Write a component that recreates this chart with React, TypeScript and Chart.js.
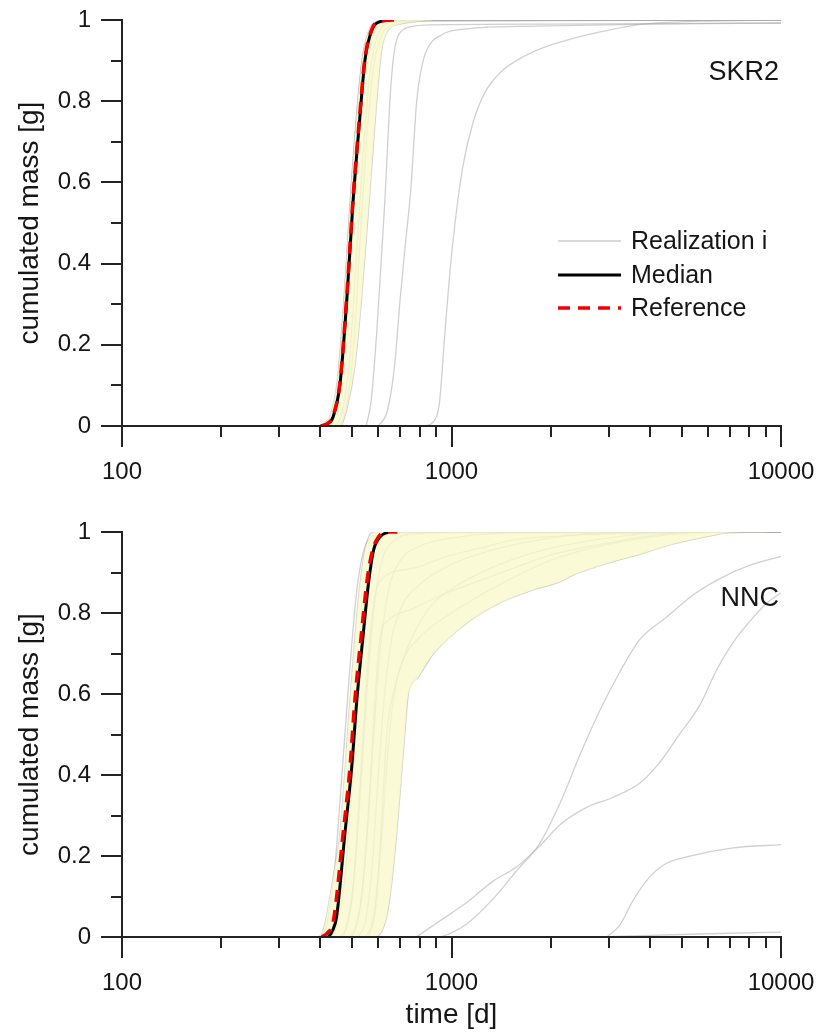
import React, { useEffect, useRef } from "react";
import { Chart, registerables } from "chart.js";

Chart.register(...registerables);

type Pt = [number, number];

// ---------------- axes / labels ----------------
const xMin = 100;
const xMax = 10000;
const yMin = 0;
const yMax = 1;
const xTickValues = [100, 1000, 10000];
const xMinorTickValues = [200, 300, 400, 500, 600, 700, 800, 900, 2000, 3000, 4000, 5000, 6000, 7000, 8000, 9000];
const yTickValues = [0, 0.2, 0.4, 0.6, 0.8, 1];
const yMinorTickValues = [0.1, 0.3, 0.5, 0.7, 0.9];
const legendLabels = ["Realization i", "Median", "Reference"];
const yAxisTitle = "cumulated mass [g]";
const xAxisTitle = "time [d]";
const panelNames = ["SKR2", "NNC"];

// ---------------- SKR2 (top panel): [time d, cumulated mass g] ----------------
const skrMedian: Pt[] = [[402, 0], [420, 0.005], [437, 0.022], [459, 0.105], [481, 0.31], [503, 0.557], [527, 0.76], [546, 0.9], [573, 0.975], [607, 0.996], [650, 1]];
const skrReference: Pt[] = [[402, 0], [420, 0.006], [437, 0.025], [459, 0.11], [481, 0.32], [503, 0.565], [527, 0.77], [546, 0.905], [573, 0.977], [607, 0.997], [685, 1]];
const skrBandLeft: Pt[] = [[396, 0], [415, 0.01], [430, 0.03], [450, 0.11], [472, 0.32], [494, 0.57], [517, 0.78], [537, 0.91], [563, 0.978], [597, 0.997], [640, 1], [10000, 1]];
const skrBandRight: Pt[] = [[464, 0], [481, 0.04], [509, 0.146], [533, 0.31], [553, 0.475], [573, 0.64], [593, 0.8], [614, 0.926], [643, 0.975], [698, 0.99], [783, 0.996], [900, 1], [10000, 1]];
const skrReal1: Pt[] = [[405, 0], [425, 0.015], [445, 0.07], [468, 0.26], [490, 0.52], [512, 0.74], [535, 0.9], [562, 0.97], [600, 0.995], [700, 1], [10000, 1]];
const skrReal2: Pt[] = [[420, 0], [445, 0.03], [468, 0.13], [492, 0.38], [515, 0.62], [540, 0.82], [565, 0.93], [600, 0.985], [660, 0.998], [10000, 1]];
const skrReal3: Pt[] = [[440, 0], [465, 0.03], [490, 0.16], [515, 0.42], [540, 0.68], [562, 0.85], [590, 0.95], [630, 0.99], [720, 1], [10000, 1]];
const skrReal4: Pt[] = [[455, 0], [478, 0.04], [505, 0.2], [530, 0.48], [552, 0.7], [575, 0.86], [605, 0.95], [650, 0.985], [760, 0.998], [10000, 1]];
const skrReal5: Pt[] = [[551, 0], [570, 0.06], [593, 0.23], [610, 0.39], [628, 0.557], [650, 0.8], [665, 0.9], [681, 0.95], [710, 0.975], [748, 0.983], [868, 0.988], [2000, 0.99], [10000, 0.993]];
const skrReal6: Pt[] = [[600, 0], [640, 0.04], [672, 0.15], [698, 0.31], [725, 0.45], [752, 0.58], [784, 0.8], [810, 0.88], [840, 0.925], [940, 0.965], [1110, 0.978], [1800, 0.985], [4000, 0.99], [10000, 0.992]];
const skrReal7: Pt[] = [[830, 0], [880, 0.01], [920, 0.06], [953, 0.22], [989, 0.38], [1025, 0.5], [1083, 0.64], [1165, 0.75], [1260, 0.82], [1403, 0.87], [1613, 0.905], [1900, 0.932], [2230, 0.95], [2800, 0.97], [3810, 0.99], [5700, 0.997], [10000, 1]];

// ---------------- NNC (bottom panel) ----------------
const nncMedian: Pt[] = [[423, 0], [435, 0.015], [448, 0.05], [475, 0.257], [498, 0.42], [516, 0.585], [540, 0.75], [560, 0.874], [580, 0.955], [607, 0.988], [643, 1]];
const nncReference: Pt[] = [[404, 0], [420, 0.01], [438, 0.04], [469, 0.257], [492, 0.42], [509, 0.585], [533, 0.75], [553, 0.874], [573, 0.948], [600, 0.988], [636, 1], [685, 1]];
const nncBandLeft: Pt[] = [[394, 0], [405, 0.01], [417, 0.05], [440, 0.16], [459, 0.257], [492, 0.585], [521, 0.83], [546, 0.955], [573, 0.998], [607, 1], [10000, 1]];
const nncBandRight: Pt[] = [[594, 0], [615, 0.015], [636, 0.05], [660, 0.14], [682, 0.257], [702, 0.38], [722, 0.503], [740, 0.6], [790, 0.64], [883, 0.7], [1112, 0.775], [1403, 0.825], [1769, 0.857], [2134, 0.877], [2331, 0.893], [2950, 0.922], [3732, 0.945], [4690, 0.97], [5910, 0.988], [6960, 0.998], [10000, 1]];
const nncReal1: Pt[] = [[400, 0], [418, 0.03], [440, 0.15], [465, 0.4], [490, 0.65], [515, 0.85], [540, 0.95], [575, 0.99], [640, 1], [10000, 1]];
const nncReal2: Pt[] = [[430, 0], [450, 0.03], [475, 0.15], [500, 0.38], [525, 0.62], [550, 0.82], [575, 0.93], [610, 0.98], [680, 0.998], [10000, 1]];
const nncReal3: Pt[] = [[460, 0], [482, 0.03], [508, 0.16], [535, 0.42], [560, 0.66], [585, 0.83], [615, 0.93], [660, 0.975], [760, 0.995], [1200, 1], [10000, 1]];
const nncReal4: Pt[] = [[490, 0], [515, 0.03], [540, 0.14], [565, 0.36], [590, 0.58], [615, 0.75], [650, 0.87], [700, 0.93], [800, 0.965], [1000, 0.985], [1500, 0.997], [10000, 1]];
const nncReal5: Pt[] = [[520, 0], [548, 0.04], [575, 0.18], [602, 0.42], [630, 0.62], [660, 0.74], [710, 0.82], [800, 0.87], [1000, 0.92], [1400, 0.96], [2200, 0.99], [3500, 1], [10000, 1]];
const nncReal6: Pt[] = [[550, 0], [580, 0.05], [610, 0.22], [640, 0.45], [670, 0.6], [710, 0.68], [800, 0.74], [1000, 0.8], [1400, 0.87], [2000, 0.93], [3000, 0.97], [4500, 0.993], [6000, 1], [10000, 1]];
const nncReal7: Pt[] = [[470, 0], [500, 0.1], [530, 0.4], [560, 0.7], [585, 0.84], [607, 0.88], [762, 0.91], [969, 0.94], [1220, 0.96], [1534, 0.98], [2500, 0.993], [4936, 0.998], [10000, 1]];
const nncReal8: Pt[] = [[500, 0], [530, 0.08], [560, 0.3], [585, 0.58], [607, 0.74], [640, 0.78], [762, 0.81], [969, 0.85], [1220, 0.88], [1534, 0.91], [1941, 0.94], [2454, 0.96], [3084, 0.975], [3910, 0.99], [6000, 1], [10000, 1]];
const nncReal9: Pt[] = [[560, 0], [590, 0.08], [615, 0.3], [636, 0.5], [680, 0.63], [740, 0.72], [820, 0.79], [883, 0.825], [1050, 0.87], [1400, 0.92], [2000, 0.96], [3000, 0.985], [4500, 1], [10000, 1]];
const nncReal10: Pt[] = [[923, 0], [1000, 0.01], [1112, 0.032], [1337, 0.094], [1574, 0.163], [1855, 0.232], [2134, 0.33], [2454, 0.45], [2822, 0.56], [3245, 0.655], [3732, 0.735], [4499, 0.79], [5419, 0.845], [6529, 0.885], [8052, 0.918], [10000, 0.94]];
const nncReal11: Pt[] = [[782, 0], [923, 0.04], [1112, 0.085], [1337, 0.138], [1574, 0.173], [1855, 0.225], [2134, 0.277], [2572, 0.32], [3098, 0.345], [3732, 0.38], [4292, 0.432], [4936, 0.502], [5677, 0.573], [6381, 0.66], [7167, 0.728], [8052, 0.78], [9050, 0.824], [10000, 0.85]];
const nncReal12: Pt[] = [[2958, 0], [3246, 0.03], [3555, 0.09], [4003, 0.149], [4499, 0.182], [5172, 0.198], [7153, 0.22], [10000, 0.228]];
const nncReal13: Pt[] = [[2800, 0], [4000, 0.004], [6000, 0.008], [10000, 0.012]];

const skrRealizations: Pt[][] = [skrBandLeft, skrReal1, skrReal2, skrReal3, skrReal4, skrBandRight, skrReal5, skrReal6, skrReal7];
const nncRealizations: Pt[][] = [nncBandLeft, nncReal1, nncReal2, nncReal3, nncReal4, nncReal5, nncReal6, nncReal7, nncReal8, nncReal9, nncBandRight, nncReal10, nncReal11, nncReal12, nncReal13];

// ---------------- styles ----------------
const FONT = '"Liberation Sans", Arial, Helvetica, sans-serif';
const TEXT = "#161616";
const AXIS = "#232323";
const GREY = "rgba(170,170,170,0.55)";
const LEGEND_GREY = "rgb(218,218,218)";
const BAND = "rgba(250,249,205,0.8)";
const RED = "#f00000";
const MAJOR = 21;
const MINOR = 11;

const toXY = (arr: Pt[]) => arr.map(([x, y]) => ({ x, y }));

function buildDatasets(real: Pt[][], left: Pt[], right: Pt[], median: Pt[], ref: Pt[]) {
  const ds: any[] = [];
  ds.push({
    data: toXY(ref),
    borderColor: RED,
    borderWidth: 3.5,
    borderDash: [12, 8],
    pointRadius: 0,
    cubicInterpolationMode: "monotone",
    fill: false,
    order: 0,
  });
  ds.push({
    data: toXY(median),
    borderColor: "#000000",
    borderWidth: 3,
    pointRadius: 0,
    cubicInterpolationMode: "monotone",
    fill: false,
    order: 1,
  });
  ds.push({
    data: [...toXY(left), ...toXY(right).reverse()],
    borderColor: "rgba(0,0,0,0)",
    borderWidth: 0,
    backgroundColor: BAND,
    pointRadius: 0,
    tension: 0.25,
    fill: "shape",
    order: 2,
  });
  real.forEach((r) => {
    ds.push({
      data: toXY(r),
      borderColor: GREY,
      borderWidth: 1.3,
      pointRadius: 0,
      cubicInterpolationMode: "monotone",
      fill: false,
      order: 3,
    });
  });
  return ds;
}

const decorPlugin = {
  id: "decor",
  afterDatasetsDraw(chart: any, _args: any, opts: any) {
    const ctx: CanvasRenderingContext2D = chart.ctx;
    const xs = chart.scales.x;
    const ys = chart.scales.y;
    const px = (v: number) => Math.round(xs.getPixelForValue(v));
    const py = (v: number) => Math.round(ys.getPixelForValue(v));
    const xl = px(xMin);
    const xr = px(xMax);
    const yb = py(yMin);
    const yt = py(yMax);
    ctx.save();
    ctx.strokeStyle = AXIS;
    ctx.lineWidth = 2;
    ctx.lineCap = "butt";
    ctx.beginPath();
    ctx.moveTo(xl, yt - 1);
    ctx.lineTo(xl, yb + MAJOR);
    ctx.moveTo(xl - MAJOR, yb);
    ctx.lineTo(xr + 1, yb);
    yTickValues.forEach((v) => {
      const y = py(v);
      ctx.moveTo(xl - MAJOR, y);
      ctx.lineTo(xl, y);
    });
    yMinorTickValues.forEach((v) => {
      const y = py(v);
      ctx.moveTo(xl - MINOR, y);
      ctx.lineTo(xl, y);
    });
    xTickValues.forEach((v) => {
      const x = px(v);
      ctx.moveTo(x, yb);
      ctx.lineTo(x, yb + MAJOR);
    });
    xMinorTickValues.forEach((v) => {
      const x = px(v);
      ctx.moveTo(x, yb);
      ctx.lineTo(x, yb + MINOR);
    });
    ctx.stroke();

    // panel name
    ctx.fillStyle = TEXT;
    ctx.font = `27px ${FONT}`;
    ctx.textAlign = "right";
    ctx.textBaseline = "alphabetic";
    ctx.fillText(opts.name, chart.chartArea.right - 2, opts.nameY);

    if (opts.legend) {
      const rows = [241, 275, 308];
      const x1 = 558;
      const x2 = 621;
      ctx.font = `25px ${FONT}`;
      ctx.textAlign = "left";
      ctx.textBaseline = "middle";
      ctx.strokeStyle = LEGEND_GREY;
      ctx.lineWidth = 2;
      ctx.setLineDash([]);
      ctx.beginPath();
      ctx.moveTo(x1, rows[0]);
      ctx.lineTo(x2, rows[0]);
      ctx.stroke();
      ctx.strokeStyle = "#000";
      ctx.lineWidth = 3;
      ctx.beginPath();
      ctx.moveTo(x1, rows[1]);
      ctx.lineTo(x2, rows[1]);
      ctx.stroke();
      ctx.strokeStyle = RED;
      ctx.lineWidth = 3.5;
      ctx.setLineDash([12, 8]);
      ctx.beginPath();
      ctx.moveTo(x1, rows[2]);
      ctx.lineTo(x2, rows[2]);
      ctx.stroke();
      ctx.setLineDash([]);
      legendLabels.forEach((t, i) => {
        ctx.fillText(t, 631, rows[i] + 1);
      });
    }
    ctx.restore();
  },
};

const zeroPadding = (s: any) => {
  s.paddingTop = 0;
  s.paddingBottom = 0;
  s.paddingLeft = 0;
  s.paddingRight = 0;
};

function makeConfig(p: {
  datasets: any[];
  padTop: number;
  xAxisHeight: number;
  showXTitle: boolean;
  name: string;
  nameY: number;
  legend: boolean;
}): any {
  return {
    type: "line",
    data: { datasets: p.datasets },
    plugins: [decorPlugin],
    options: {
      responsive: false,
      animation: false,
      devicePixelRatio: 1,
      events: [],
      layout: { padding: { left: 0, right: 39, top: p.padTop, bottom: 0 } },
      plugins: {
        legend: { display: false },
        tooltip: { enabled: false },
        decor: { name: p.name, nameY: p.nameY, legend: p.legend },
      },
      scales: {
        x: {
          type: "logarithmic",
          min: xMin,
          max: xMax,
          afterBuildTicks: (s: any) => {
            s.ticks = xTickValues.map((v) => ({ value: v }));
          },
          afterFit: (s: any) => {
            s.height = p.xAxisHeight;
            zeroPadding(s);
          },
          grid: { display: false, drawTicks: false },
          border: { display: false },
          ticks: {
            callback: (v: any) => String(v),
            font: { family: FONT, size: 24 },
            color: TEXT,
            padding: 32,
            maxRotation: 0,
            autoSkip: false,
          },
          title: {
            display: p.showXTitle,
            text: xAxisTitle,
            font: { family: FONT, size: 28 },
            color: TEXT,
            padding: { top: 0, bottom: 1 },
          },
        },
        y: {
          type: "linear",
          min: yMin,
          max: yMax,
          afterBuildTicks: (s: any) => {
            s.ticks = yTickValues.map((v) => ({ value: v }));
          },
          afterFit: (s: any) => {
            s.width = 122;
            zeroPadding(s);
          },
          grid: { display: false, drawTicks: false },
          border: { display: false },
          ticks: {
            callback: (v: any) => String(v),
            font: { family: FONT, size: 24 },
            color: TEXT,
            padding: 31,
          },
          title: {
            display: true,
            text: yAxisTitle,
            font: { family: FONT, size: 28 },
            color: TEXT,
            padding: { top: 13, bottom: 0 },
          },
        },
      },
    },
  };
}

function Panel(props: { top: number; height: number; config: any }) {
  const ref = useRef<HTMLCanvasElement>(null);
  useEffect(() => {
    const chart = new Chart(ref.current as HTMLCanvasElement, props.config);
    return () => chart.destroy();
  }, []);
  return (
    <canvas
      ref={ref}
      width={820}
      height={props.height}
      style={{ position: "absolute", left: 0, top: props.top, width: 820, height: props.height, display: "block" }}
    />
  );
}

export default function App() {
  const topConfig = makeConfig({
    datasets: buildDatasets(skrRealizations, skrBandLeft, skrBandRight, skrMedian, skrReference),
    padTop: 20,
    xAxisHeight: 74,
    showXTitle: false,
    name: panelNames[0],
    nameY: 80,
    legend: true,
  });
  const bottomConfig = makeConfig({
    datasets: buildDatasets(nncRealizations, nncBandLeft, nncBandRight, nncMedian, nncReference),
    padTop: 32,
    xAxisHeight: 96,
    showXTitle: true,
    name: panelNames[1],
    nameY: 106,
    legend: false,
  });
  return (
    <div style={{ position: "absolute", left: 0, top: 0, width: 820, height: 1033, background: "#fff" }}>
      <Panel top={0} height={500} config={topConfig} />
      <Panel top={500} height={533} config={bottomConfig} />
    </div>
  );
}
